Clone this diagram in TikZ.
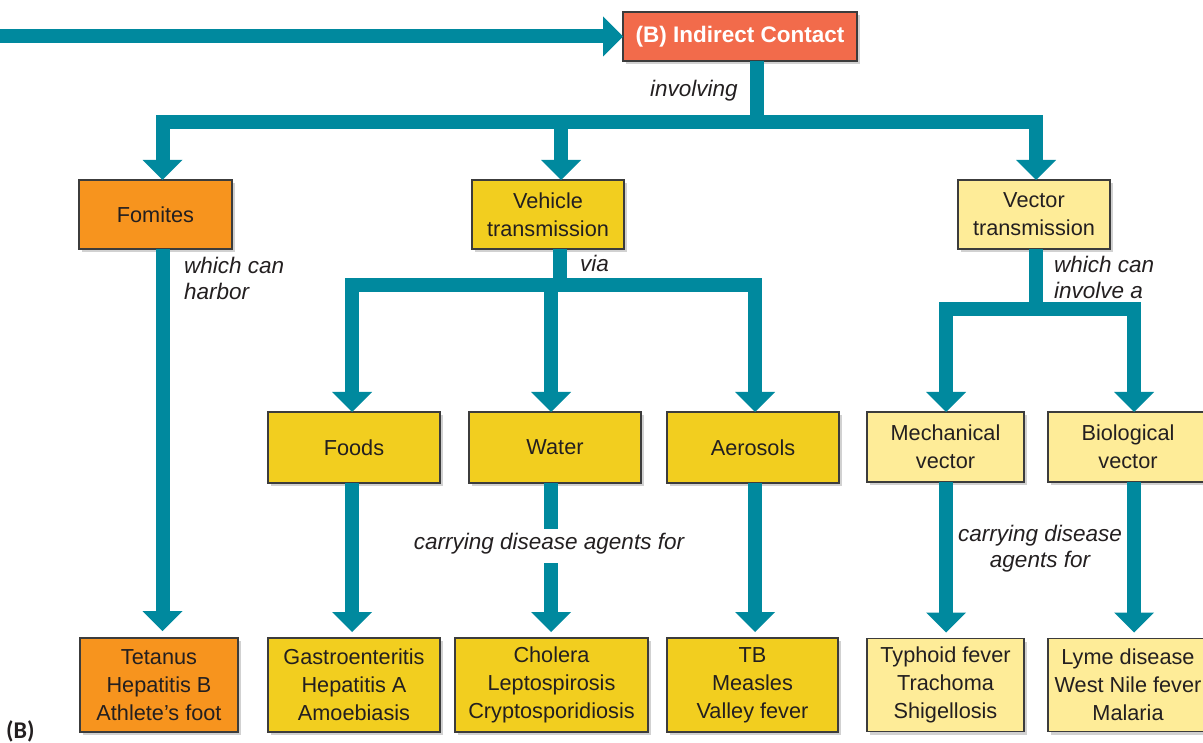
\documentclass[tikz,border=0pt]{standalone}
\usepackage{fontspec}
\setmainfont{Liberation Sans}
\newfontfamily\labfont{Carlito}
\usetikzlibrary{arrows.meta,shadows}
\definecolor{tealc}{HTML}{00899E}
\definecolor{topc}{HTML}{F26B4B}
\definecolor{fomc}{HTML}{F7941E}
\definecolor{yelc}{HTML}{F2CE1F}
\definecolor{lyelc}{HTML}{FEEC98}
\definecolor{txt}{HTML}{231F20}
\definecolor{boxline}{HTML}{3C3C3C}
\begin{document}
\begin{tikzpicture}[x=1pt,y=-1pt,
  box/.style={draw=boxline, line width=1.1pt, inner sep=0pt, outer sep=0pt,
    align=center, text=txt, font=\fontsize{21.7}{28}\selectfont,
    drop shadow={shadow xshift=3pt,shadow yshift=-3pt,opacity=0.18,fill=black}},
  conn/.style={color=tealc, line width=14pt,
    -{Triangle[width=40pt,length=20pt,line width=0pt]}},
  bar/.style={color=tealc, line width=14pt},
  lab/.style={font=\fontsize{22.5}{26}\selectfont\itshape, text=txt, inner sep=0pt},
]
\useasboundingbox (0,0) rectangle (1203,743);

% nodes
\node[box, fill=topc, text=white, font=\bfseries\fontsize{22.5}{27}\selectfont,
  minimum width=234pt, minimum height=49pt] (top) at (740,36.5) {(B) Indirect Contact};
\node[box, fill=fomc, minimum width=153pt, minimum height=69pt] (fomites) at (155.5,214.5) {Fomites};
\node[box, fill=yelc, minimum width=152pt, minimum height=69pt] (vehicle) at (548,214.5) {Vehicle\\transmission};
\node[box, fill=lyelc, minimum width=152pt, minimum height=69pt] (vector) at (1034,214.5) {Vector\\transmission};

\node[box, fill=yelc, minimum width=172pt, minimum height=71pt] (foods) at (354,447.5) {Foods};
\node[box, fill=yelc, minimum width=172pt, minimum height=71pt] (water) at (555,447.5) {Water};
\node[box, fill=yelc, minimum width=172pt, minimum height=71pt] (aerosols) at (753,447.5) {Aerosols};
\node[box, fill=lyelc, minimum width=157pt, minimum height=70pt] (mech) at (945.5,447) {Mechanical\\vector};
\node[box, fill=lyelc, minimum width=160pt, minimum height=70pt] (bio) at (1128,447) {Biological\\vector};

\node[box, fill=fomc, minimum width=158pt, minimum height=94pt] (tetanus) at (159,685) {Tetanus\\Hepatitis B\\Athlete’s foot};
\node[box, fill=yelc, minimum width=172pt, minimum height=94pt] (gastro) at (354,685) {Gastroenteritis\\Hepatitis A\\Amoebiasis};
\node[box, fill=yelc, minimum width=193pt, minimum height=94pt] (cholera) at (551.5,685) {Cholera\\Leptospirosis\\Cryptosporidiosis};
\node[box, fill=yelc, minimum width=171pt, minimum height=94pt] (tb) at (752.5,685) {TB\\Measles\\Valley fever};
\node[box, fill=lyelc, minimum width=157pt, minimum height=93pt] (typhoid) at (945.5,685) {Typhoid fever\\Trachoma\\Shigellosis};
\node[box, fill=lyelc, minimum width=160pt, minimum height=93pt] (lyme) at (1128,685) {Lyme disease\\West Nile fever\\Malaria};

% labels
\node[lab, anchor=base] (linv) at (694,97) {involving};
\node[lab, anchor=north west, align=left] (lharb) at (184,256.5) {which can\\harbor};
\node[lab, anchor=base west] (lvia) at (580,272) {via};
\node[lab, anchor=north west, align=left] (linvolve) at (1054,255.5) {which can\\involve a};
\node[lab, anchor=base, text height=16pt, text depth=10pt, inner ysep=4pt] (wlab) at (549,549) {carrying disease agents for};
\node[lab, anchor=north, align=center] (mlab) at (1040,524.5) {carrying disease\\agents for};
\node[font=\labfont\bfseries\fontsize{24}{28}\selectfont, text=txt, anchor=base west, inner sep=0pt] (blab) at (6,738) {(B)};

% connectors
\coordinate (src) at (0,36.5);
\draw[conn] (src) -- (top.west);

\coordinate (bus1) at (757,122.5);
\draw[bar] ([xshift=17pt]top.south) -- (bus1);
\draw[conn] (bus1) -| ([xshift=7pt]fomites.north);
\draw[conn] (bus1) -| ([xshift=13pt]vehicle.north);
\draw[conn] (bus1) -| ([xshift=2pt]vector.north);

\coordinate (bus2) at (560,285);
\draw[bar] ([xshift=12pt]vehicle.south) -- (bus2);
\draw[conn] (bus2) -| ([xshift=-2pt]foods.north);
\draw[conn] (bus2) -| ([xshift=-4pt]water.north);
\draw[conn] (bus2) -| ([xshift=2pt]aerosols.north);

\coordinate (bus3) at (1036,309);
\draw[bar] ([xshift=2pt]vector.south) -- (bus3);
\draw[conn] (bus3) -| ([xshift=0.5pt]mech.north);
\draw[conn] (bus3) -| ([xshift=6pt]bio.north);

\draw[conn, shorten >=7pt] ([xshift=7pt]fomites.south) -- ([xshift=3.5pt]tetanus.north);
\draw[conn, shorten >=6pt] ([xshift=-2pt]foods.south) -- ([xshift=-2pt]gastro.north);
\draw[bar] ([xshift=-4pt]water.south) -- ([xshift=-4pt]water.south |- wlab.north);
\draw[conn, shorten >=6pt] ([xshift=-4pt]water.south |- wlab.south) -- ([xshift=-0.5pt]cholera.north);
\draw[conn, shorten >=6pt] ([xshift=2pt]aerosols.south) -- ([xshift=2.5pt]tb.north);
\draw[conn, shorten >=6pt] ([xshift=0.5pt]mech.south) -- ([xshift=0.5pt]typhoid.north);
\draw[conn, shorten >=6pt] ([xshift=6pt]bio.south) -- ([xshift=6pt]lyme.north);
\end{tikzpicture}
\end{document}
